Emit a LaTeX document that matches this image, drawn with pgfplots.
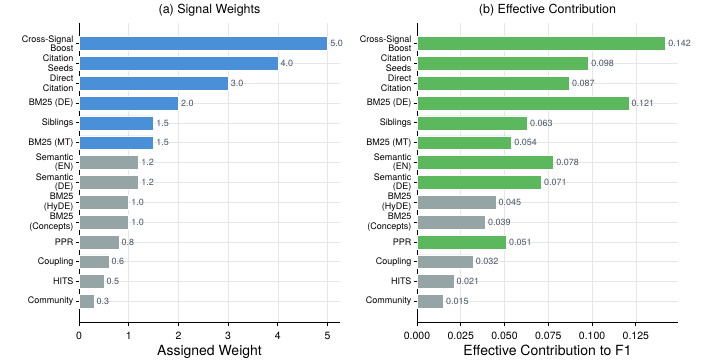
\documentclass[border=0pt]{standalone}
\usepackage{pgfplots}
\pgfplotsset{compat=1.18}
\usepackage{fontspec}
\setmainfont{TeX Gyre Heros}
\definecolor{cblue}{HTML}{4A90D9}
\definecolor{cgreen}{HTML}{5CB85C}
\definecolor{cgrey}{HTML}{95A5A6}
\definecolor{lblc}{HTML}{4A5568}
\definecolor{gridc}{HTML}{E6E6E6}
\begin{document}
\begin{tikzpicture}
\useasboundingbox (0,0) rectangle (706bp,363bp);
\pgfplotsset{common/.style={
  scale only axis, width=261bp, height=299bp,
  anchor=south west,
  xbar, bar width=0.7, bar shift=0pt,
  y dir=reverse, ymin=-1.035, ymax=14.035, xmin=0,
  ytick={0,...,13},
  yticklabels={{Cross-Signal\\Boost},{Citation\\Seeds},{Direct\\Citation},{BM25 (DE)},{Siblings},{BM25 (MT)},{Semantic\\(EN)},{Semantic\\(DE)},{BM25\\(HyDE)},{BM25\\(Concepts)},{PPR},{Coupling},{HITS},{Community}},
  axis x line*=bottom, axis y line*=left,
  axis line style={black, line width=0.8bp, -},
  tick align=outside, major tick length=3.5bp,
  tick style={black, line width=0.8bp},
  grid=major, major grid style={gridc, line width=0.6bp},
  yticklabel style={font=\fontsize{9bp}{9.6bp}\selectfont, align=right, inner sep=2bp},
  xticklabel style={font=\fontsize{10.5bp}{12bp}\selectfont, yshift=-3bp},
  /pgf/number format/assume math mode=true,
  title style={font=\fontsize{12.5bp}{14bp}\selectfont, yshift=-3bp},
  xlabel style={font=\fontsize{14bp}{16bp}\selectfont, yshift=1bp},
  point meta=x,
  every node near coord/.append style={font=\fontsize{9bp}{10bp}\selectfont, color=lblc, inner sep=2.5bp},
}}
\begin{axis}[common, at={(79bp,41bp)}, xmax=5.25, xtick={0,1,2,3,4,5},
  title={(a) Signal Weights}, xlabel={Assigned Weight},
  nodes near coords={\pgfmathprintnumber[fixed,zerofill,precision=1]{\pgfplotspointmeta}}]
\addplot[fill=cblue, draw=white, line width=0.5bp, bar shift=0pt] coordinates {
(5.0,0) (4.0,1) (3.0,2) (2.0,3) (1.5,4) (1.5,5)};
\addplot[fill=cgrey, draw=white, line width=0.5bp, bar shift=0pt] coordinates {
(1.2,6) (1.2,7) (1.0,8) (1.0,9) (0.8,10) (0.6,11) (0.5,12) (0.3,13)};
\end{axis}
\begin{axis}[common, at={(417bp,41bp)}, xmax=0.1491,
  xtick={0,0.025,0.05,0.075,0.1,0.125},
  xticklabel style={/pgf/number format/.cd, fixed, zerofill, precision=3},
  scaled x ticks=false,
  title={(b) Effective Contribution}, xlabel={Effective Contribution to F1},
  nodes near coords={\pgfmathprintnumber[fixed,zerofill,precision=3]{\pgfplotspointmeta}}]
\addplot[fill=cgreen, draw=white, line width=0.5bp, bar shift=0pt] coordinates {
(0.142,0) (0.098,1) (0.087,2) (0.121,3) (0.063,4) (0.054,5) (0.078,6) (0.071,7) (0.051,10)};
\addplot[fill=cgrey, draw=white, line width=0.5bp, bar shift=0pt] coordinates {
(0.045,8) (0.039,9) (0.032,11) (0.021,12) (0.015,13)};
\end{axis}
\end{tikzpicture}
\end{document}
